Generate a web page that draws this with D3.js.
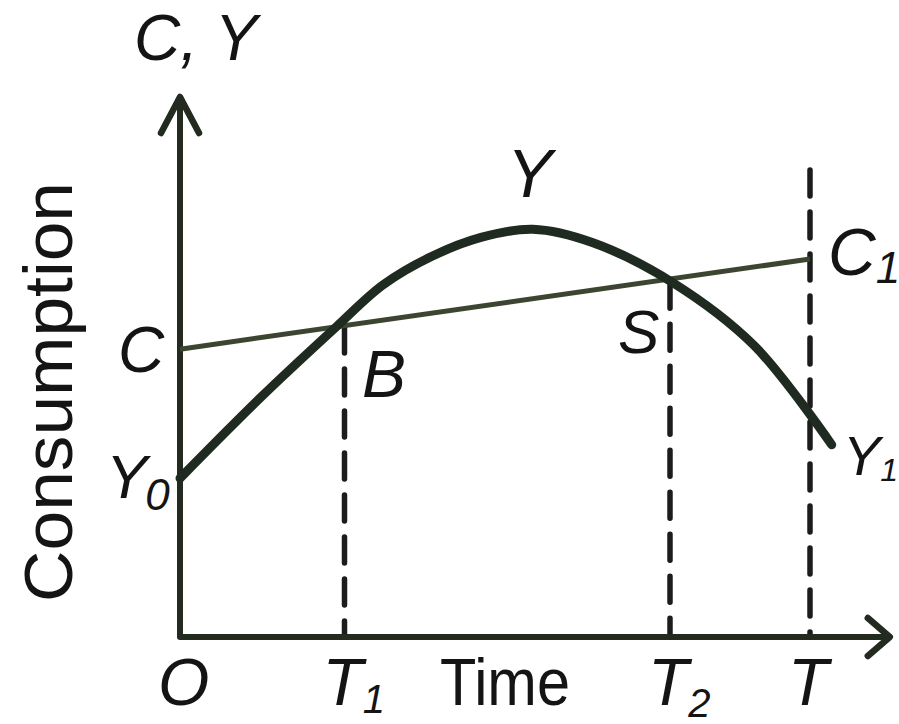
<!DOCTYPE html>
<meta charset="utf-8">
<script src="https://d3js.org/d3.v7.min.js"></script>
<style>
  body { margin: 0; background: #fff; }
  text { fill: #141414; font-family: "Liberation Sans", Arial, sans-serif; }
  .it { font-style: italic; }
</style>
<body>
<div id="canvas"></div>
<script>

// data (time units along x, consumption / income units along y)
var incomeTime   = [0, 1.14, 2.23, 2.9, 3.6, 4.3, 5.04, 5.9, 7.03, 8.2, 9.31];
var incomeValues = [2.94, 4.42, 5.74, 6.52, 7.05, 7.4, 7.55, 7.3, 6.57, 5.4, 3.56];
var consTime   = [0, 9.0];
var consValues = [5.33, 7.0];
var tickTimes  = [0, 2.35, 7.0, 9.0];
var tickNames  = ["O", "T", "T", "T"];
var tickSubs   = ["", "1", "2", ""];
var dashTops   = [5.74, 6.57, 8.65];

var width = 899, height = 724;
var svg = d3.select('#canvas')
    .append("svg")
    .attr("width", width)
    .attr("height", height);

// scales
var x = d3.scaleLinear().domain([0, 10]).range([180, 880]);
var y = d3.scaleLinear().domain([0, 10]).range([637, 97]);

var ink = "#232b20";

// dashed verticals
svg.selectAll("line.drop")
    .data(tickTimes.slice(1))
    .enter()
    .append("line")
    .attr("class", "drop")
    .attr("x1", function(d){ return x(d); })
    .attr("x2", function(d){ return x(d); })
    .attr("y1", function(d,i){ return y(dashTops[i]); })
    .attr("y2", y(0))
    .attr("stroke", "#1c1c1c")
    .attr("stroke-width", 5.5)
    .attr("stroke-linecap", "round")
    .attr("stroke-dasharray", "26,16");

// axes
svg.append("path")
    .attr("d", "M" + x(0) + "," + y(9.9) + " L" + x(0) + "," + y(0) + " L" + x(10.14) + "," + y(0))
    .attr("fill", "none")
    .attr("stroke", ink)
    .attr("stroke-width", 6)
    .attr("stroke-linejoin", "round");

// arrow heads
svg.append("path")
    .attr("d", "M" + (x(0)-19) + "," + (y(10)+36) + " L" + x(0) + "," + y(10) + " L" + (x(0)+19) + "," + (y(10)+36))
    .attr("fill", "none").attr("stroke", ink).attr("stroke-width", 6.5)
    .attr("stroke-linecap", "round").attr("stroke-linejoin", "round");
svg.append("path")
    .attr("d", "M" + (x(10.14)-22) + "," + (y(0)-19) + " L" + x(10.14) + "," + y(0) + " L" + (x(10.14)-22) + "," + (y(0)+19))
    .attr("fill", "none").attr("stroke", ink).attr("stroke-width", 6.5)
    .attr("stroke-linecap", "round").attr("stroke-linejoin", "round");

// consumption line C -> C1
var consLine = d3.line()
    .x(function(d){ return x(d[0]); })
    .y(function(d){ return y(d[1]); });
svg.append("path")
    .datum(d3.zip(consTime, consValues))
    .attr("d", consLine)
    .attr("fill", "none")
    .attr("stroke", "#3b4530")
    .attr("stroke-width", 5);

// income curve Y
var incomeLine = d3.line()
    .x(function(d){ return x(d[0]); })
    .y(function(d){ return y(d[1]); })
    .curve(d3.curveCatmullRom.alpha(0.5));
svg.append("path")
    .datum(d3.zip(incomeTime, incomeValues))
    .attr("d", incomeLine)
    .attr("fill", "none")
    .attr("stroke", "#1f2b21")
    .attr("stroke-width", 9)
    .attr("stroke-linecap", "round");

// labels
function label(txt, sub, px, py, size, subSize, subDy, subDx) {
    var t = svg.append("text")
        .attr("class", "it")
        .attr("x", px).attr("y", py)
        .style("font-size", size + "px")
        .text(txt);
    if (sub) {
        t.append("tspan")
            .attr("dx", subDx || 0)
            .attr("dy", subDy)
            .style("font-size", subSize + "px")
            .text(sub);
    }
    return t;
}

label("C, Y", "", 134, 60, 64);
label("C", "", 118, 372, 64);
label("Y", "0", 106, 498, 62, 44, 12, -2);
label("B", "", 362, 397, 66);
label("Y", "", 507, 197, 68);
label("S", "", 618, 353, 62);
label("C", "1", 828, 275, 66, 44, 8, 0);
label("Y", "1", 843, 475, 56, 32, 6, 0);

// time axis ticks labels
svg.selectAll("text.tick")
    .data(tickTimes)
    .enter()
    .append("text")
    .attr("class", "it tick")
    .attr("x", function(d){ return x(d) - 22; })
    .attr("y", 705)
    .style("font-size", "66px")
    .each(function(d, i){
        var t = d3.select(this);
        t.text(tickNames[i]);
        if (tickSubs[i]) {
            t.append("tspan")
                .attr("dy", i == 2 ? 12 : 8)
                .attr("dx", 0)
                .style("font-size", "40px")
                .text(tickSubs[i]);
        }
    });

svg.append("text")
    .attr("x", 440).attr("y", 705)
    .attr("textLength", 130)
    .attr("lengthAdjust", "spacingAndGlyphs")
    .style("font-size", "66px")
    .text("Time");

svg.append("text")
    .attr("transform", "translate(72,392) rotate(-90)")
    .attr("text-anchor", "middle")
    .attr("textLength", 420)
    .attr("lengthAdjust", "spacingAndGlyphs")
    .style("font-size", "68px")
    .text("Consumption");

</script>
</body>
